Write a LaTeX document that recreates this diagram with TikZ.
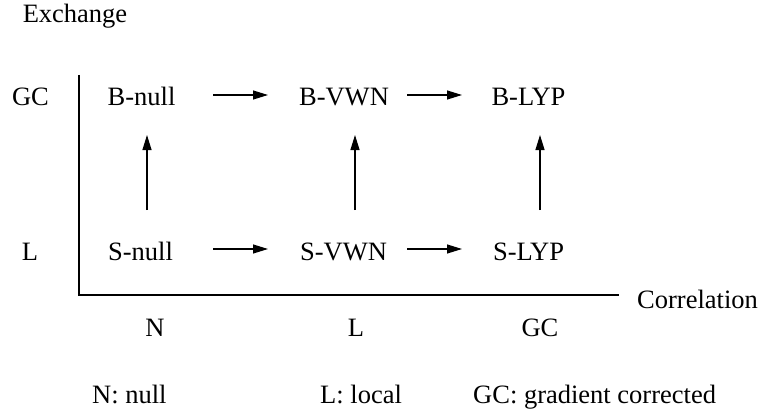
\documentclass[tikz,border=0pt]{standalone}
\usepackage{fontspec}
\setmainfont{Liberation Serif}
\usetikzlibrary{arrows.meta}
\begin{document}
\begin{tikzpicture}[x=1pt,y=-1pt,
  lbl/.style={font=\fontsize{26.5}{30}\selectfont, inner sep=0pt, anchor=base},
  conn/.style={line width=1.2pt, -{Triangle[length=15pt,width=9pt]}},
  axis/.style={line width=1.6pt}]
\useasboundingbox (0,0) rectangle (763,412);
% axis labels
\node[lbl] (ex) at (75,23) {Exchange};
\node[lbl] (gc) at (30.5,105) {GC};
\node[lbl] (l) at (30,260) {L};
\node[lbl, anchor=base west] (corr) at (637,308) {Correlation};
\node[lbl] (xn) at (155,336) {N};
\node[lbl] (xl) at (356,336) {L};
\node[lbl] (xgc) at (540,336) {GC};
% axes
\coordinate (top) at (79,75);
\coordinate (origin) at (79,295);
\coordinate (right) at (619,295);
\draw[axis] (top) -- (origin) -- (right);
% functionals
\node[lbl] (bnull) at (141.5,105) {B-null};
\node[lbl] (bvwn) at (344,105) {B-VWN};
\node[lbl] (blyp) at (528.5,105) {B-LYP};
\node[lbl] (snull) at (140.5,260) {S-null};
\node[lbl] (svwn) at (343.5,260) {S-VWN};
\node[lbl] (slyp) at (528.5,260) {S-LYP};
% arrows
\coordinate (a1s) at (213,95); \coordinate (a1e) at (268,95);
\coordinate (a2s) at (407,95); \coordinate (a2e) at (462,95);
\coordinate (a3s) at (213,249); \coordinate (a3e) at (268,249);
\coordinate (a4s) at (407,249); \coordinate (a4e) at (462,249);
\draw[conn] (a1s) -- (a1e);
\draw[conn] (a2s) -- (a2e);
\draw[conn] (a3s) -- (a3e);
\draw[conn] (a4s) -- (a4e);
\coordinate (v1s) at (147,210); \coordinate (v1e) at (147,135);
\coordinate (v2s) at (355,210); \coordinate (v2e) at (355,135);
\coordinate (v3s) at (540,210); \coordinate (v3e) at (540,135);
\draw[conn] (v1s) -- (v1e);
\draw[conn] (v2s) -- (v2e);
\draw[conn] (v3s) -- (v3e);
% legend
\node[lbl, anchor=base west] (ln) at (92,403) {N: null};
\node[lbl, anchor=base west] (ll) at (320,403) {L: local};
\node[lbl, anchor=base west] (lgc) at (473,403) {GC: gradient corrected};
\end{tikzpicture}
\end{document}
